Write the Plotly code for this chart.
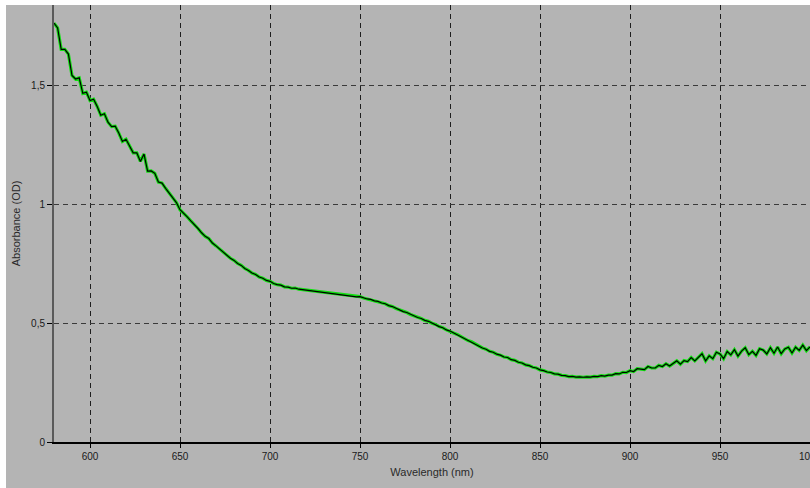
import plotly.graph_objects as go

# Wavelength grid (nm), 2 nm steps from 580 to 1000
wavelength = list(range(580, 1001, 2))

# Absorbance (OD)
absorbance = [
    1.76, 1.74, 1.65, 1.65, 1.63, 1.54, 1.525, 1.53, 1.465, 1.47,
    1.435, 1.44, 1.41, 1.373, 1.379, 1.344, 1.325, 1.327, 1.298, 1.263,
    1.272, 1.241, 1.215, 1.215, 1.179, 1.21, 1.138, 1.139, 1.129, 1.092,
    1.088, 1.066, 1.047, 1.029, 1.006, 0.976, 0.963, 0.946, 0.929, 0.914,
    0.897, 0.879, 0.864, 0.855, 0.836, 0.824, 0.811, 0.795, 0.786, 0.772,
    0.763, 0.75, 0.742, 0.729, 0.721, 0.71, 0.704, 0.693, 0.688, 0.679,
    0.675, 0.666, 0.661, 0.659, 0.652, 0.651, 0.646, 0.647, 0.642, 0.640,
    0.641, 0.636, 0.634, 0.635, 0.630, 0.628, 0.629, 0.624, 0.622, 0.622,
    0.620, 0.616, 0.616, 0.612, 0.610, 0.611, 0.605, 0.601, 0.599, 0.593,
    0.591, 0.584, 0.581, 0.573, 0.569, 0.561, 0.556, 0.548, 0.544, 0.536,
    0.531, 0.523, 0.519, 0.511, 0.507, 0.499, 0.494, 0.485, 0.480, 0.471,
    0.466, 0.458, 0.452, 0.442, 0.436, 0.426, 0.421, 0.411, 0.405, 0.395,
    0.390, 0.381, 0.377, 0.369, 0.365, 0.357, 0.355, 0.346, 0.343, 0.335,
    0.332, 0.324, 0.321, 0.314, 0.311, 0.303, 0.300, 0.294, 0.292, 0.286,
    0.285, 0.280, 0.279, 0.275, 0.276, 0.273, 0.274, 0.272, 0.274, 0.273,
    0.276, 0.275, 0.279, 0.277, 0.281, 0.281, 0.287, 0.286, 0.293, 0.292,
    0.300, 0.296, 0.308, 0.307, 0.304, 0.317, 0.311, 0.311, 0.322, 0.317,
    0.329, 0.319, 0.331, 0.341, 0.327, 0.342, 0.338, 0.355, 0.341, 0.357,
    0.371, 0.341, 0.362, 0.350, 0.377, 0.370, 0.350, 0.380, 0.366, 0.388,
    0.361, 0.382, 0.396, 0.367, 0.381, 0.364, 0.392, 0.386, 0.370, 0.396,
    0.373, 0.399, 0.371, 0.391, 0.398, 0.374, 0.398, 0.385, 0.407, 0.384, 0.40,
]

x_ticks = [600, 650, 700, 750, 800, 850, 900, 950, 1000]
x_tick_labels = ["600", "650", "700", "750", "800", "850", "900", "950", "1000"]
y_ticks = [0, 0.5, 1, 1.5]
y_tick_labels = ["0", "0,5", "1", "1,5"]

W, H = 810, 488
ML, MR, MT, MB = 54, 0, 5, 46
PW, PH = W - ML - MR, H - MT - MB
GRAY = "#b4b4b4"
FONT = "Liberation Sans, Arial, sans-serif"

fig = go.Figure()
fig.add_trace(go.Scatter(x=wavelength, y=absorbance, mode="lines",
                         line=dict(color="#10e010", width=3.2),
                         hoverinfo="skip", showlegend=False))
fig.add_trace(go.Scatter(x=wavelength, y=absorbance, mode="lines",
                         line=dict(color="#000000", width=1.2),
                         hoverinfo="skip", showlegend=False))

fig.update_layout(
    width=W, height=H,
    margin=dict(l=ML, r=MR, t=MT, b=MB, pad=0, autoexpand=False),
    paper_bgcolor=GRAY, plot_bgcolor=GRAY,
    font=dict(family=FONT, size=10, color="#1a1a1a"),
    showlegend=False,
    shapes=[
        dict(type="rect", xref="paper", yref="paper",
             x0=-ML / PW - 0.01, x1=1.01, y0=1, y1=1 + (MT + 2) / PH,
             fillcolor="white", line=dict(width=0), layer="above"),
        dict(type="rect", xref="paper", yref="paper",
             x0=-ML / PW - 0.01, x1=(6 - ML) / PW, y0=-MB / PH - 0.01, y1=1.02,
             fillcolor="white", line=dict(width=0), layer="above"),
    ],
)

fig.update_xaxes(
    range=[580, 1000], tickvals=x_ticks, ticktext=x_tick_labels,
    ticklabeloverflow="allow", automargin=False,
    showgrid=True, gridcolor="#1e1e1e", gridwidth=1, griddash="5px,4px",
    showline=True, linecolor="#000000", linewidth=1.5,
    ticks="outside", ticklen=4, tickcolor="#000000", tickwidth=1,
    zeroline=False, fixedrange=True,
    title=dict(text="Wavelength (nm)", font=dict(size=11, color="#2a2a2a"), standoff=8),
)
fig.update_yaxes(
    range=[0, PH / 238], tickvals=y_ticks, ticktext=y_tick_labels,
    automargin=False,
    showgrid=True, gridcolor="#3a3a3a", gridwidth=1, griddash="5px,4px",
    showline=True, linecolor="#5a5a5a", linewidth=2,
    ticks="outside", ticklen=5, tickcolor="#000000", tickwidth=1,
    zeroline=False, fixedrange=True,
    title=dict(text="Absorbance (OD)", font=dict(size=11, color="#2a2a2a"), standoff=8),
)

fig.write_html("out.html", config=dict(displayModeBar=False, staticPlot=True))
